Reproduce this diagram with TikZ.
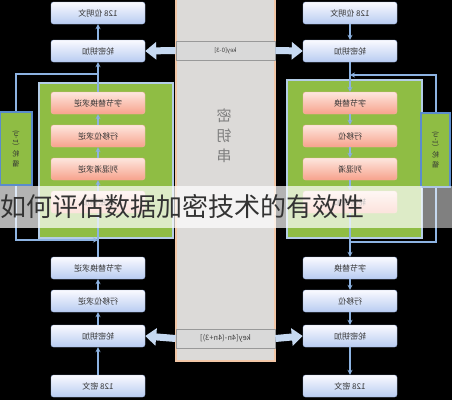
\documentclass[tikz,border=0pt]{standalone}
\usepackage{fontspec}
\newfontfamily\cjk{Noto Sans CJK SC}
\usetikzlibrary{arrows.meta,positioning}

\definecolor{flowblue}{HTML}{8DB3E2}
\definecolor{fatblue}{HTML}{C6D9F1}
\definecolor{leafgreen}{HTML}{8FBD44}
\definecolor{frameblue}{HTML}{B4CDE6}
\definecolor{loopedge}{HTML}{5B8CCC}
\definecolor{peach}{HTML}{F2C6A6}
\definecolor{colgray}{HTML}{DCDAD8}
\definecolor{blueedge}{HTML}{9DB3DD}
\definecolor{bluelow}{HTML}{B8CCF1}
\definecolor{pinkedge}{HTML}{F0B4A2}
\definecolor{pinkhigh}{HTML}{FDE6DE}
\definecolor{pinklow}{HTML}{F7A28C}

\newcommand{\flip}[1]{\reflectbox{#1}}

\begin{document}
\begin{tikzpicture}[x=1pt, y=-1pt, >={Stealth[length=5pt,width=5pt]},
                    node distance=33pt, on grid,
    bluebox/.style={rectangle, rounded corners=2.5pt, draw=blueedge,
                    top color=blue!2, bottom color=bluelow,
                    minimum width=94pt, minimum height=22pt, text=black!80,
                    font=\cjk\fontsize{8}{8}\selectfont},
    pinkbox/.style={bluebox, draw=pinkedge, top color=pinkhigh, bottom color=pinklow},
    greenbox/.style={rectangle, fill=leafgreen, draw=frameblue, line width=2pt},
    loopbox/.style={rectangle, fill=leafgreen, draw=loopedge, line width=1.8pt,
                    font=\cjk\fontsize{7}{10}\selectfont, align=center, text=black!80},
    keyband/.style={rectangle, fill=black!15, draw=black!40, line width=0.8pt,
                    minimum width=99pt, minimum height=19pt, text=black!75},
    flow/.style={->, draw=flowblue, line width=1.5pt},
    loopline/.style={draw=flowblue, line width=2pt},
    keyarrow/.style={draw=fatblue, line width=7pt, -{Triangle[width=17pt,length=11pt]}}]

% background and key column
\fill[black] (0,0) rectangle (452,400);
\useasboundingbox (0,0) rectangle (452,400);
\draw[fill=colgray, draw=peach, line width=1.5pt] (176,-5) rectangle (275,361);
\node[keyband, font=\cjk\fontsize{6}{7}\selectfont] (ktop) at (225.5,50.5) {\flip{key[0-3]}};
\node[keyband, font=\cjk\fontsize{7.5}{8}\selectfont] (kbot) at (225.5,338.5) {\flip{key[4n-(4n+3)]}};
\node[font=\cjk\fontsize{15}{20}\selectfont, text=black!50, align=center]
     (kstr) at (224,136) {\flip{密}\\\flip{钥}\\\flip{串}};

% round frames
\node[greenbox, minimum width=134pt, minimum height=155pt] (lgreen) at (106,160.5) {};
\node[greenbox, minimum width=135pt, minimum height=158pt] (rgreen) at (354.5,159) {};
\node[loopbox, minimum width=32pt, minimum height=73pt] (lloop) at (16,148.5)
     {\flip{\rotatebox{-90}{(n-1)}}\\[4pt]\flip{轮}\\\flip{循}};
\node[loopbox, minimum width=29pt, minimum height=74pt] (rloop) at (435.5,150)
     {\flip{\rotatebox{-90}{(n-1)}}\\[4pt]\flip{轮}\\\flip{循}};

% left side (decryption)
\node[bluebox] (lplain) at (98,13)            {\flip{128 位明文}};
\node[bluebox] (lround) at (98,51)            {\flip{轮密钥加}};
\node[pinkbox] (lp1)    at (98,103)           {\flip{字节替换求逆}};
\node[pinkbox] (lp2)    [below=of lp1]        {\flip{行移位求逆}};
\node[pinkbox] (lp3)    [below=of lp2]        {\flip{列混淆求逆}};
\node[pinkbox] (lp4)    [below=of lp3]        {\flip{轮密钥加}};
\node[bluebox] (lsub)   at (98,268)           {\flip{字节替换求逆}};
\node[bluebox] (lshift) [below=of lsub]       {\flip{行移位求逆}};
\node[bluebox] (lkey)   at (98,336)           {\flip{轮密钥加}};
\node[bluebox] (lciph)  at (98,386)           {\flip{128 密文}};

% right side (encryption)
\node[bluebox] (rplain) at (350,13)           {\flip{128 位明文}};
\node[bluebox] (rround) at (350,51)           {\flip{轮密钥加}};
\node[pinkbox] (rp1)    at (350,103)          {\flip{字节替换}};
\node[pinkbox] (rp2)    [below=of rp1]        {\flip{行移位}};
\node[pinkbox] (rp3)    [below=of rp2]        {\flip{列混淆}};
\node[pinkbox] (rp4)    [below=of rp3]        {\flip{轮密钥加}};
\node[bluebox] (rsub)   at (350,268)          {\flip{字节替换}};
\node[bluebox] (rshift) [below=of rsub]       {\flip{行移位}};
\node[bluebox] (rkey)   at (350,336)          {\flip{轮密钥加}};
\node[bluebox] (rciph)  at (350,386)          {\flip{128 密文}};

\coordinate (ltop) at (98,74);
\coordinate (lbot) at (98,240);
\coordinate (rtop) at (350,75);
\coordinate (rbot) at (350,242);

\path[flow] (lciph)  edge (lkey)
            (lkey)   edge (lshift)
            (lshift) edge (lsub)
            (lsub)   edge (lp4)
            (lp4)    edge (lp3)
            (lp3)    edge (lp2)
            (lp2)    edge (lp1)
            (lp1)    edge (lround)
            (lround) edge (lplain);

\path[flow] (rplain) edge (rround)
            (rround) edge (rp1)
            (rp1)    edge (rp2)
            (rp2)    edge (rp3)
            (rp3)    edge (rp4)
            (rp4)    edge (rsub)
            (rsub)   edge (rshift)
            (rshift) edge (rkey)
            (rkey)   edge (rciph);

% repeat loops
\draw[loopline] (ltop) -| (lloop.north);
\draw[loopline, ->] (lloop.south) |- (lbot);
\draw[loopline] (rbot) -| (rloop.south);
\draw[loopline, ->] (rloop.north) |- (rtop);

% round keys
\draw[keyarrow] (ktop.west) -- (lround.east);
\draw[keyarrow] (ktop.east) -- (rround.west);
\draw[keyarrow] (kbot.west) -- (lkey.east);
\draw[keyarrow] (kbot.east) -- (rkey.west);

% caption band
\fill[white, fill opacity=0.7] (0,186) rectangle (422,228);
\fill[white, fill opacity=0.5] (422,186) rectangle (452,228);
\node[anchor=west, inner sep=0pt, font=\cjk\fontsize{26}{26}\selectfont, text=black!80]
     (caption) at (0,207) {如何评估数据加密技术的有效性};

\end{tikzpicture}
\end{document}
